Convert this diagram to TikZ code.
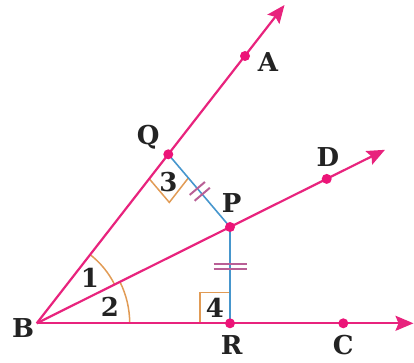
\documentclass[tikz,border=0pt]{standalone}
\usepackage{fontspec}
\setmainfont{DejaVu Serif}
\usetikzlibrary{calc,arrows.meta,angles}
\definecolor{pinkline}{RGB}{232,35,125}
\definecolor{pinkdot}{RGB}{236,20,120}
\definecolor{blueline}{RGB}{70,150,205}
\definecolor{orangeline}{RGB}{225,155,85}
\definecolor{tickcol}{RGB}{185,95,150}
\definecolor{txt}{RGB}{35,35,35}
\begin{document}
\begin{tikzpicture}[x=1pt,y=1pt,
  ray/.style={draw=pinkline,line width=2.2pt,-{Stealth[length=18pt,width=15pt,inset=3pt]}},
  seg/.style={draw=blueline,line width=1.6pt},
  amark/.style={draw=orangeline,line width=1.5pt},
  etick/.style={draw=tickcol,line width=2pt},
  dot/.style={circle,fill=pinkdot,inner sep=0pt,minimum size=10pt},
  lbl/.style={text=txt,inner sep=0pt,font=\fontsize{26}{28}\selectfont\bfseries}]
\useasboundingbox (0,0) rectangle (414,362);
% points
\coordinate (B) at (36.7,38.7);
\coordinate (Q) at (168.3,207.7);
\coordinate (A) at (245,306);
\coordinate (At) at (284.5,357);
\coordinate (P) at (230,135);
\coordinate (D) at (326.7,183.1);
\coordinate (Dt) at (385,212.2);
\coordinate (R) at (230,38.7);
\coordinate (C) at (343.3,38.7);
\coordinate (Ct) at (413.5,38.7);
% angle arcs
\pic[amark,angle radius=93pt] {angle = C--B--P};
\pic[amark,angle radius=87pt] {angle = P--B--Q};
% right angle marks
\coordinate (q1) at ($(Q)!31pt!(B)$);
\coordinate (q2) at ($(Q)!31pt!(P)$);
\draw[amark] (q1) -- ($(q1)+(q2)-(Q)$) -- (q2);
\coordinate (r1) at ($(R)+(-30,0)$);
\coordinate (r2) at ($(R)+(0,31)$);
\draw[amark] (r1) -- ($(r1)+(r2)-(R)$) -- (r2);
% perpendiculars
\draw[seg] (Q) -- (P);
\draw[seg] (P) -- (R);
% equal ticks
\draw[etick] ($(Q)!0.47!(P)!10pt!90:(P)$) -- ($(Q)!0.47!(P)!10pt!-90:(P)$);
\draw[etick] ($(Q)!0.55!(P)!10pt!90:(P)$) -- ($(Q)!0.55!(P)!10pt!-90:(P)$);
\draw[etick] ($(R)+(-16.5,59.3)$) -- ++(33,0);
\draw[etick] ($(R)+(-16.5,54)$) -- ++(33,0);
% rays
\draw[ray] (B) -- (At);
\draw[ray] (B) -- (Dt);
\draw[ray] (B) -- (Ct);
% dots
\node[dot] (nQ) at (Q) {};
\node[dot] (nA) at (A) {};
\node[dot] (nP) at (P) {};
\node[dot] (nD) at (D) {};
\node[dot] (nR) at (R) {};
\node[dot] (nC) at (C) {};
% labels
\node[lbl] (lA) at (268,300) {A};
\node[lbl] (lQ) at (148.3,225) {Q};
\node[lbl] (lD) at (328,205.3) {D};
\node[lbl] (lP) at (231.7,159) {P};
\node[lbl] (lB) at (23,34) {B};
\node[lbl] (lR) at (231.7,17) {R};
\node[lbl] (lC) at (343.3,17) {C};
\node[lbl] (l1) at (90,83.7) {1};
\node[lbl] (l2) at (110,55.3) {2};
\node[lbl] (l3) at (168.3,180.3) {3};
\node[lbl] (l4) at (215,53.7) {4};
\end{tikzpicture}
\end{document}
